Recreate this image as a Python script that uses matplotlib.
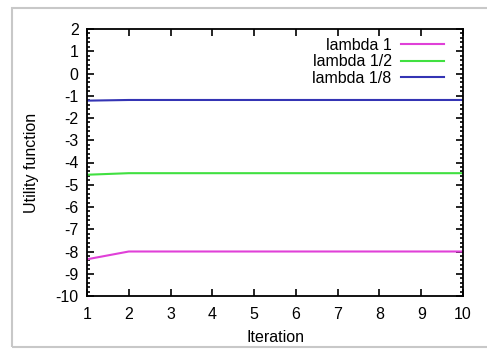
import matplotlib
matplotlib.use("Agg")
import matplotlib.pyplot as plt
from matplotlib.ticker import MultipleLocator
from matplotlib.patches import Rectangle

plt.rcParams['font.family'] = ['Liberation Sans', 'DejaVu Sans']
plt.rcParams['axes.unicode_minus'] = False

iterations = [1, 2, 3, 4, 5, 6, 7, 8, 9, 10]
lambda_1 = [-8.35, -8.0, -8.0, -8.0, -8.0, -8.0, -8.0, -8.0, -8.0, -8.0]
lambda_half = [-4.55, -4.48, -4.48, -4.48, -4.48, -4.48, -4.48, -4.48, -4.48, -4.48]
lambda_eighth = [-1.22, -1.19, -1.19, -1.19, -1.19, -1.19, -1.19, -1.19, -1.19, -1.19]
labels = ["lambda 1", "lambda 1/2", "lambda 1/8"]
colors = ["#e040d8", "#40e040", "#3434b4"]

W, H = 487, 349
fig = plt.figure(figsize=(W / 100, H / 100), dpi=100)
# outer gray frame
fig.patches.append(Rectangle((12 / W, 2 / H), 1.2, (347 - 8) / H, transform=fig.transFigure,
                             fill=False, edgecolor="#c8c8c8", linewidth=1.5))
ax = fig.add_axes([87 / W, 1 - 296 / H, (463 - 87) / W, (296 - 29) / H])

for ys, lab, c in zip([lambda_1, lambda_half, lambda_eighth], labels, colors):
    ax.plot(iterations, ys, color=c, linewidth=1.5, label=lab)

FS = 11.5
ax.set_xlim(1, 10)
ax.set_ylim(-10, 2)
ax.xaxis.set_major_locator(MultipleLocator(1))
ax.yaxis.set_major_locator(MultipleLocator(1))
ax.yaxis.set_minor_locator(MultipleLocator(0.2))
ax.tick_params(which='both', direction='in', top=True, right=True, labelsize=FS, width=1.2)
ax.tick_params(which='major', length=5, pad=6)
ax.tick_params(axis='x', which='major', pad=8)
ax.tick_params(which='minor', length=2.5)
for s in ax.spines.values():
    s.set_linewidth(1.3)
ax.set_xlabel("Iteration", fontsize=FS, labelpad=6)
ax.set_ylabel("Utility function", fontsize=FS, labelpad=12)

leg = ax.legend(loc='upper right', frameon=False, markerfirst=False, fontsize=FS,
                handlelength=2.7, labelspacing=0.1, borderaxespad=0.3,
                bbox_to_anchor=(0.98, 1.01), handletextpad=0.6)

fig.savefig("out.png", dpi=100)
